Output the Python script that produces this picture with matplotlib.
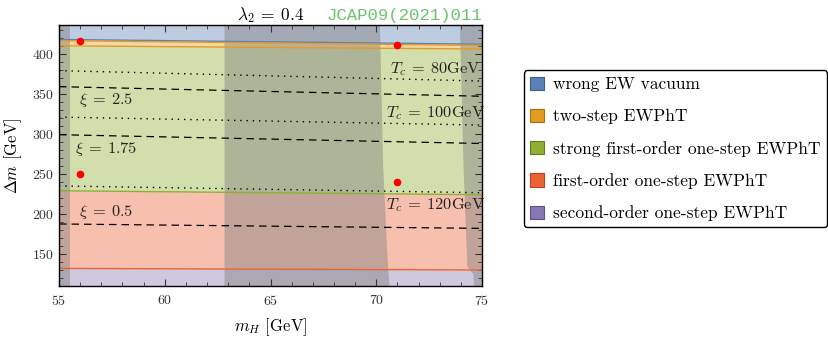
import numpy as np
import matplotlib
matplotlib.use("Agg")
import matplotlib.pyplot as plt
from matplotlib.patches import Patch
from matplotlib.ticker import MultipleLocator

plt.rcParams['font.family'] = ['cmr10', 'DejaVu Serif']
plt.rcParams['mathtext.fontset'] = 'cm'
plt.rcParams['axes.unicode_minus'] = False
plt.rcParams['axes.formatter.use_mathtext'] = True

# region boundaries, read at the left (55) and right (75) edge
mh_edges = [55, 75]
ymax, ymin = 436, 110
wrong_lo = [418, 412]       # wrong EW vacuum / two-step
twostep_lo = [410, 406]     # two-step / strong first-order
strong_lo = [229, 224]      # strong first-order / first-order
first_lo = [132, 130]       # first-order / second-order

# contour lines
tc80 = [379, 366]
tc100 = [321, 311]
tc120 = [235, 226.5]
xi25 = [359, 347]
xi175 = [299, 288]
xi05 = [187.5, 182]

# excluded (gray) regions
gray_left_x = [55.0, 55.52]
gray_mid_y = [436, 260, 150, 110]
gray_mid_lo = [62.8, 62.8, 62.8, 62.8]
gray_mid_hi = [70.15, 70.3, 70.5, 70.6]
gray_right_y = [436, 260, 135, 125, 110]
gray_right_lo = [73.93, 74.1, 74.28, 74.57, 74.6]

# benchmark points
bp_x = [56, 71, 56, 71]
bp_y = [416, 411, 250, 240]

labels = ['wrong EW vacuum', 'two-step EWPhT', 'strong first-order one-step EWPhT',
          'first-order one-step EWPhT', 'second-order one-step EWPhT']
colors = ['#5e81b5', '#e19c24', '#8fb032', '#eb6235', '#8778b3']
edges = ['#3d5d8f', '#a8720f', '#5f7a1a', '#b8421c', '#5e5190']

fig = plt.figure(figsize=(8.29, 3.37), dpi=100)
ax = fig.add_axes([0.0712, 0.1513, 0.5103, 0.7745])

top = [ymax, ymax]
bot = [ymin, ymin]
bands = [(top, wrong_lo), (wrong_lo, twostep_lo), (twostep_lo, strong_lo),
         (strong_lo, first_lo), (first_lo, bot)]
for (hi, lo), c in zip(bands, colors):
    ax.fill_between(mh_edges, lo, hi, color=c, alpha=0.4, lw=0)
for b, c in zip([wrong_lo, twostep_lo, strong_lo, first_lo], colors[:4]):
    ax.plot(mh_edges, b, color=c, lw=1.0)
ax.plot(mh_edges, [b - 1.5 for b in wrong_lo], color=colors[1], lw=1.0)

gray = (0.5, 0.5, 0.5)
ax.fill_betweenx([ymin, ymax], gray_left_x[0], gray_left_x[1], color=gray, alpha=0.45, lw=0)
ax.fill_betweenx(gray_mid_y, gray_mid_lo, gray_mid_hi, color=gray, alpha=0.45, lw=0)
ax.fill_betweenx(gray_right_y, gray_right_lo, [75] * len(gray_right_y), color=gray, alpha=0.45, lw=0)

for yv in [tc80, tc100, tc120]:
    ax.plot(mh_edges, yv, color='black', lw=1.0, ls=(0, (1, 3.5)))
for yv in [xi25, xi175, xi05]:
    ax.plot(mh_edges, yv, color='black', lw=0.9, ls=(0, (6, 4)))

ax.plot(bp_x, bp_y, 'o', color='red', ms=4.5, zorder=5)

txt = dict(fontsize=11.8, color='#222222', va='center')
ax.text(55.95, 342, r'$\xi\:=\:2.5$', **txt)
ax.text(55.75, 281, r'$\xi\:=\:1.75$', **txt)
ax.text(55.95, 203, r'$\xi\:=\:0.5$', **txt)
ax.text(72.8, 381, r'$T_c\:=\:80\mathrm{GeV}$', ha='center', **txt)
ax.text(72.8, 326, r'$T_c\:=\:100\mathrm{GeV}$', ha='center', **txt)
ax.text(72.8, 211, r'$T_c\:=\:120\mathrm{GeV}$', ha='center', **txt)

ax.set_xlim(55, 75)
ax.set_ylim(ymin, ymax)
ax.xaxis.set_major_locator(MultipleLocator(5))
ax.xaxis.set_minor_locator(MultipleLocator(1))
ax.yaxis.set_major_locator(MultipleLocator(50))
ax.yaxis.set_minor_locator(MultipleLocator(10))
ax.tick_params(which='both', direction='in', top=True, right=True, labelsize=10, colors='#333333')
ax.tick_params(which='major', length=5, width=0.8)
ax.tick_params(which='minor', length=3, width=0.6)
ax.tick_params(axis='x', pad=6)
for s in ax.spines.values():
    s.set_linewidth(1.0)

ax.set_xlabel(r'$m_H$ [GeV]', fontsize=12, labelpad=6)
ax.set_ylabel(r'$\Delta m$ [GeV]', fontsize=12, labelpad=6)
ax.set_title(r'$\lambda_2\:=\:0.4$', fontsize=12.5, pad=3)
fig.text(0.5814, 0.932, 'JCAP09(2021)011', ha='right', va='bottom', color='#6cc46c',
         fontsize=12.5, family=['Liberation Mono', 'DejaVu Sans Mono'])

handles = [Patch(facecolor=c, edgecolor=e, lw=0.8) for c, e in zip(colors, edges)]
leg = fig.legend(handles, labels, loc='center left', bbox_to_anchor=(0.632, 0.558),
                 fontsize=12.5, frameon=True, fancybox=True, edgecolor='black',
                 handlelength=0.8, handleheight=0.8, handletextpad=0.55,
                 labelspacing=0.95, borderpad=0.35, borderaxespad=0)
leg.get_frame().set_linewidth(1.0)
leg.get_frame().set_alpha(1)

fig.savefig('out.png', dpi=100)
